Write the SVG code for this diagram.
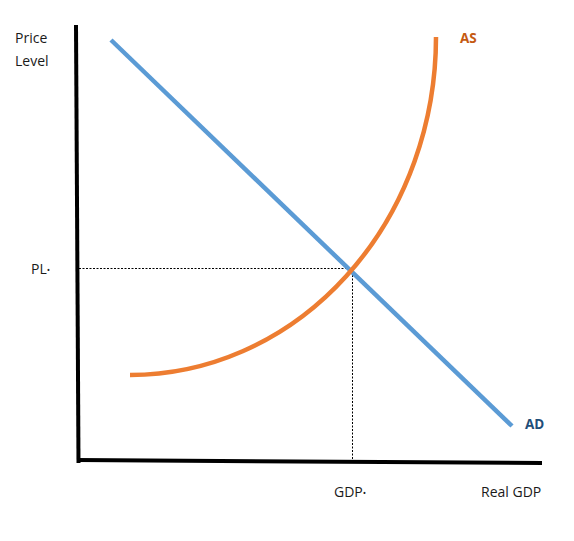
<svg xmlns="http://www.w3.org/2000/svg" width="574" height="541" viewBox="0 0 574 541">
<style>
.lbl{font-family:"Open Sans","Liberation Sans",sans-serif;font-size:14px;fill:#1a1a1a}
.axis{stroke:#000;stroke-width:4;fill:none}
.dash{stroke:#000;stroke-width:1;stroke-dasharray:2,1.5;fill:none}
</style>
<rect width="574" height="541" fill="#fff"/>
<g id="connectors">
<line class="dash" x1="79" y1="268.5" x2="351" y2="268.5"/>
<line class="dash" x1="352.5" y1="268" x2="352.5" y2="460"/>
</g>
<g id="axes">
<line class="axis" x1="76" y1="25" x2="78.5" y2="463"/>
<line class="axis" x1="77" y1="460" x2="542" y2="463"/>
</g>
<g id="AD">
<line x1="111" y1="40" x2="512" y2="426" stroke="#5B9BD5" stroke-width="4.5"/>
<text x="525" y="429" font-family="Open Sans,Liberation Sans,sans-serif" font-size="13.5" font-weight="bold" fill="#1F4E79">AD</text>
</g>
<g id="AS">
<path d="M130 375 A306 338 0 0 0 436 37" stroke="#ED7D31" stroke-width="4.5" fill="none"/>
<text x="460" y="43" font-family="Open Sans,Liberation Sans,sans-serif" font-size="13.5" font-weight="bold" fill="#C55A11">AS</text>
</g>
<g id="labels">
<text class="lbl" x="15" y="43">Price</text>
<text class="lbl" x="15" y="66">Level</text>
<text class="lbl" x="31" y="274">PL<tspan font-size="9" dy="-1">•</tspan></text>
<text class="lbl" x="334" y="497">GDP<tspan font-size="9" dy="-1">•</tspan></text>
<text class="lbl" x="481" y="497">Real GDP</text>
</g>
</svg>
